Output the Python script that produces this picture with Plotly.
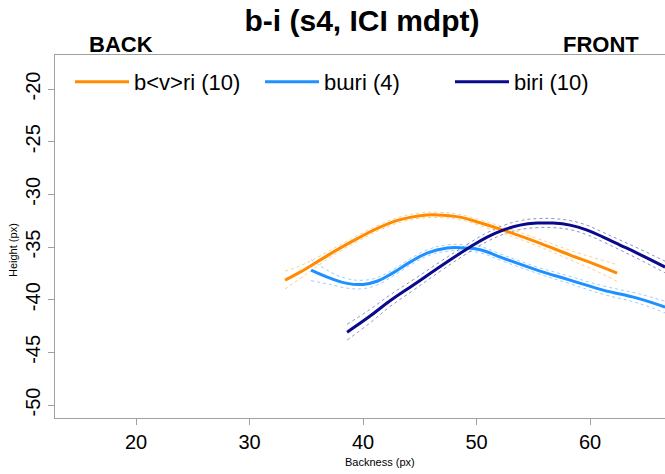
import plotly.graph_objects as go

# ---- data ----
orange_x = [33.13, 34.45, 36.21, 37.97, 39.74, 41.50, 43.26, 45.02, 46.52, 48.55, 50.31, 52.33, 55.33, 58.24, 60.62, 62.38]
orange_y = [-38.14, -37.38, -36.24, -35.10, -34.06, -33.11, -32.40, -32.02, -31.95, -32.16, -32.70, -33.39, -34.53, -35.76, -36.71, -37.47]
orange_hw = [0.85, 0.6, 0.4, 0.3, 0.28, 0.26, 0.25, 0.25, 0.25, 0.25, 0.27, 0.3, 0.35, 0.45, 0.6, 0.8]

blue_x = [35.42, 37.09, 38.59, 40.0, 41.23, 42.64, 44.14, 45.64, 47.40, 48.81, 50.31, 52.33, 55.33, 58.24, 61.15, 64.14, 66.61]
blue_y = [-37.19, -37.95, -38.45, -38.55, -38.25, -37.45, -36.43, -35.57, -35.10, -35.08, -35.25, -36.05, -37.19, -38.14, -39.09, -39.85, -40.70]
blue_hw = [1.0, 0.6, 0.45, 0.4, 0.35, 0.3, 0.3, 0.3, 0.3, 0.3, 0.3, 0.3, 0.3, 0.35, 0.4, 0.45, 0.55]

navy_x = [38.59, 40.5, 42.38, 44.5, 47.0, 49.43, 50.93, 52.33, 53.83, 55.33, 56.74, 58.24, 59.74, 61.15, 62.64, 64.14, 66.61]
navy_y = [-43.08, -41.65, -40.10, -38.55, -36.70, -35.00, -34.06, -33.39, -32.92, -32.73, -32.73, -32.92, -33.39, -34.06, -34.81, -35.57, -36.90]
navy_hw = [0.75, 0.65, 0.55, 0.5, 0.45, 0.42, 0.42, 0.42, 0.42, 0.43, 0.43, 0.43, 0.45, 0.45, 0.47, 0.5, 0.55]

series_names = ["b<v>ri (10)", "bɯri (4)", "biri (10)"]
x_ticks = [20, 30, 40, 50, 60]
y_ticks = [-50, -45, -40, -35, -30, -25, -20]
y_tick_labels = ["-50", "-45", "-40", "-35", "-30", "-25", "-20"]

# ---- layout geometry (pixels) ----
W, H = 665, 474
L, R, T, B = 55, 0, 55, 56
PW, PH = W - L - R, H - T - B

def px_x(p):
    return (p - L) / PW

def px_y(p):
    return (H - B - p) / PH

FONT = "Liberation Sans, Arial, sans-serif"
colors = ["#FF8C00", "#1E90FF", "#0A0A8C"]
band_colors = ["rgba(255,140,0,0.45)", "rgba(30,144,255,0.45)", "rgba(10,10,140,0.45)"]

fig = go.Figure()
data = [(orange_x, orange_y, orange_hw), (blue_x, blue_y, blue_hw), (navy_x, navy_y, navy_hw)]
for i, (xs, ys, hw) in enumerate(data):
    up = [y + h for y, h in zip(ys, hw)]
    lo = [y - h for y, h in zip(ys, hw)]
    for band in (up, lo):
        fig.add_trace(go.Scatter(x=xs, y=band, mode="lines",
                                 line=dict(color=band_colors[i], width=1, dash="dot", shape="spline", smoothing=1.2),
                                 showlegend=False, hoverinfo="skip"))
for i, (xs, ys, hw) in enumerate(data):
    fig.add_trace(go.Scatter(x=xs, y=ys, mode="lines", name=series_names[i],
                             line=dict(color=colors[i], width=3, shape="spline", smoothing=1.2)))

axis_common = dict(showgrid=False, zeroline=False, showline=True, linecolor="#a0a0a0", linewidth=1,
                   ticks="outside", ticklen=6, tickcolor="#a0a0a0",
                   tickfont=dict(family=FONT, size=20, color="black"))
fig.update_xaxes(range=[12.86, 66.6], tickvals=x_ticks, mirror=True, **axis_common)
fig.update_yaxes(range=[-51.23, -16.77], tickvals=y_ticks, ticktext=y_tick_labels, tickangle=-90, **axis_common)
fig.update_yaxes(tickfont=dict(family=FONT, size=20, color="black"))

fig.update_layout(
    width=W, height=H, margin=dict(l=L, r=R, t=T, b=B),
    paper_bgcolor="white", plot_bgcolor="white",
    title=dict(text="<b>b-i (s4, ICI mdpt)</b>", x=362 / W, xanchor="center", xref="container",
               y=1 - 20 / H, yanchor="middle", yref="container",
               font=dict(family=FONT, size=30, color="black")),
    legend=dict(orientation="h", x=px_x(70), y=px_y(82), xanchor="left", yanchor="middle",
                entrywidth=121, entrywidthmode="pixels", bgcolor="rgba(0,0,0,0)",
                font=dict(family=FONT, size=22, color="black"), itemwidth=54),
    showlegend=True,
)

annos = [
    dict(text="<b>BACK</b>", x=px_x(121), y=px_y(45), size=22),
    dict(text="<b>FRONT</b>", x=px_x(601), y=px_y(45), size=22),
    dict(text="Backness (px)", x=px_x(380), y=px_y(462), size=11),
]
for a in annos:
    fig.add_annotation(text=a["text"], x=a["x"], y=a["y"], xref="paper", yref="paper",
                       xanchor="center", yanchor="middle", showarrow=False,
                       font=dict(family=FONT, size=a["size"], color="black"))
fig.add_annotation(text="Height (px)", x=px_x(13), y=px_y(250), xref="paper", yref="paper",
                   xanchor="center", yanchor="middle", showarrow=False, textangle=-90,
                   font=dict(family=FONT, size=11, color="black"))

fig.write_html("out.html", config={"displayModeBar": False},
               post_script="document.body.style.margin='0';")
